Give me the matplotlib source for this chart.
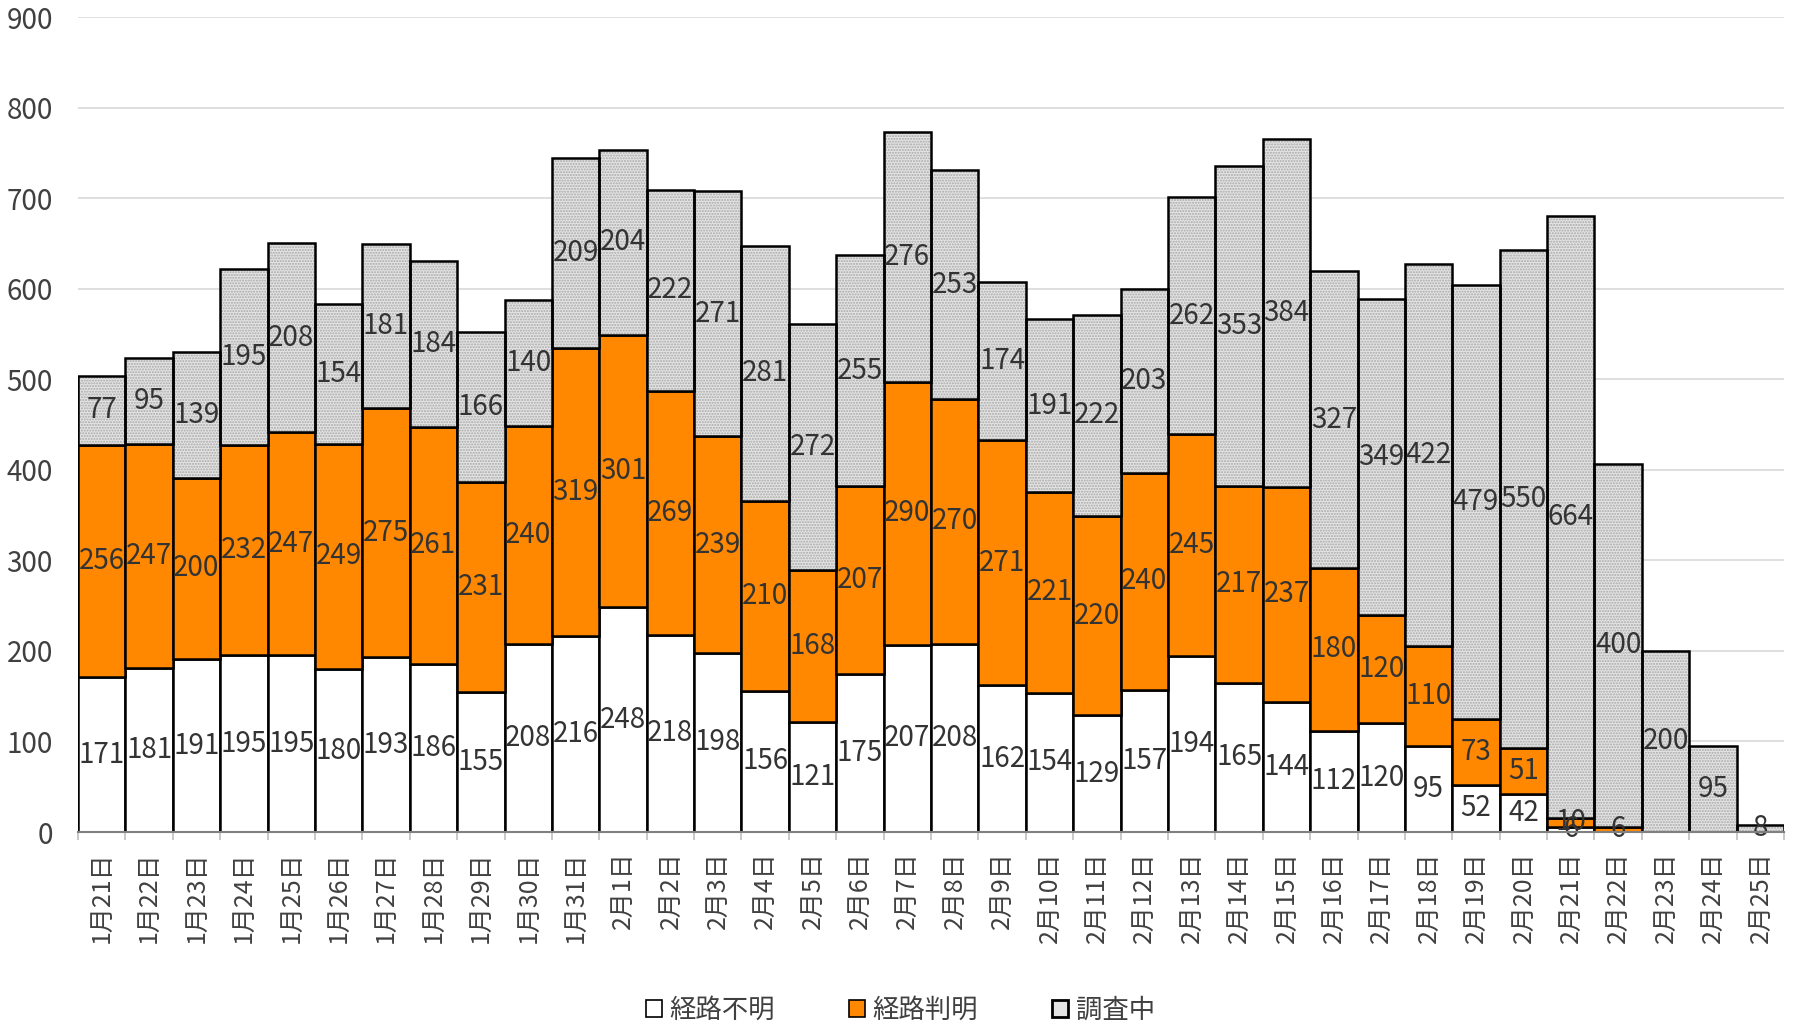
import matplotlib
matplotlib.use("Agg")
import matplotlib.pyplot as plt
from matplotlib.patches import Patch
import numpy as np

plt.rcParams['font.family'] = ['Noto Sans CJK JP', 'DejaVu Sans']

dates = ["1月21日", "1月22日", "1月23日", "1月24日", "1月25日", "1月26日", "1月27日", "1月28日",
         "1月29日", "1月30日", "1月31日", "2月1日", "2月2日", "2月3日", "2月4日", "2月5日",
         "2月6日", "2月7日", "2月8日", "2月9日", "2月10日", "2月11日", "2月12日", "2月13日",
         "2月14日", "2月15日", "2月16日", "2月17日", "2月18日", "2月19日", "2月20日", "2月21日",
         "2月22日", "2月23日", "2月24日", "2月25日"]
unknown = [171, 181, 191, 195, 195, 180, 193, 186, 155, 208, 216, 248, 218, 198, 156, 121,
           175, 207, 208, 162, 154, 129, 157, 194, 165, 144, 112, 120, 95, 52, 42, 6,
           0, 0, 0, 0]
known = [256, 247, 200, 232, 247, 249, 275, 261, 231, 240, 319, 301, 269, 239, 210, 168,
         207, 290, 270, 271, 221, 220, 240, 245, 217, 237, 180, 120, 110, 73, 51, 10,
         6, 0, 0, 0]
investigating = [77, 95, 139, 195, 208, 154, 181, 184, 166, 140, 209, 204, 222, 271, 281, 272,
                 255, 276, 253, 174, 191, 222, 203, 262, 353, 384, 327, 349, 422, 479, 550, 664,
                 400, 200, 95, 8]
series_names = ["経路不明", "経路判明", "調査中"]

x = np.arange(len(dates))
u = np.array(unknown)
k = np.array(known)
inv = np.array(investigating)

fig = plt.figure(figsize=(17.97, 10.31), dpi=100)
ax = fig.add_axes([0.0434, 0.193, 0.9494, 0.7905])

txt_color = '#404040'
lw = 1.8
ax.bar(x, u, width=1.0, color='white', edgecolor='black', linewidth=lw, zorder=3)
ax.bar(x, k, bottom=u, width=1.0, color='#FF8800', edgecolor='black', linewidth=lw, zorder=3)
# hatched fill for 調査中
ax.bar(x, inv, bottom=u + k, width=1.0, color='#e4e4e4', edgecolor='#a8a8a8', hatch='......',
       linewidth=0, zorder=3)
ax.bar(x, inv, bottom=u + k, width=1.0, fill=False, edgecolor='black', linewidth=lw, zorder=4)

fs = 20
for i in range(len(x)):
    if u[i] > 0:
        ax.text(x[i], u[i] / 2, str(u[i]), ha='center', va='center', fontsize=fs, color='#333333', zorder=5)
    if k[i] > 0:
        ax.text(x[i], u[i] + k[i] / 2, str(k[i]), ha='center', va='center', fontsize=fs, color='#333333', zorder=5)
    if inv[i] > 0:
        ax.text(x[i], u[i] + k[i] + inv[i] / 2, str(inv[i]), ha='center', va='center', fontsize=fs,
                color='#333333', zorder=5)

ax.set_xlim(-0.5, len(x) - 0.5)
ax.set_ylim(0, 900)
ax.set_yticks(np.arange(0, 901, 100))
ax.yaxis.grid(True, color='#d9d9d9', linewidth=1.2, zorder=0)
ax.set_axisbelow(True)
for s in ['left', 'right', 'top']:
    ax.spines[s].set_visible(False)
ax.spines['bottom'].set_color('#808080')
ax.spines['bottom'].set_linewidth(1.5)
ax.spines['bottom'].set_zorder(6)
ax.tick_params(axis='y', length=0, labelsize=20, labelcolor=txt_color, pad=18)
ax.set_xticks(x)
ax.set_xticklabels(dates, rotation=90, fontsize=18, color=txt_color)
ax.tick_params(axis='x', which='major', length=0, pad=14)
ax.set_xticks(np.arange(-0.5, len(x), 1.0), minor=True)
ax.tick_params(axis='x', which='minor', length=6, color='#bfbfbf', width=1.2)

handles = [Patch(facecolor='white', edgecolor='black', linewidth=1.2),
           Patch(facecolor='#FF8800', edgecolor='black', linewidth=1.2),
           Patch(facecolor='#e4e4e4', edgecolor='black', linewidth=2.0)]
fig.legend(handles, series_names, loc='center', bbox_to_anchor=(0.501, 0.02), ncol=3, frameon=False,
           fontsize=19, handlelength=0.6, handleheight=0.6, handletextpad=0.3, columnspacing=2.8,
           labelcolor=txt_color)

fig.savefig('out.png', dpi=100)
